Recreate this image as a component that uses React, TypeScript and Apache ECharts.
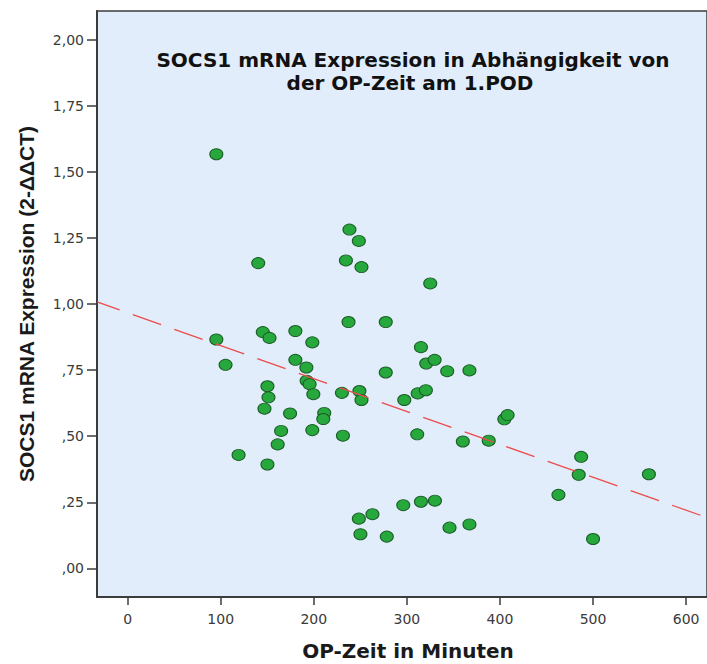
import React, { useEffect, useRef } from "react";
import * as echarts from "echarts";

// OP-Zeit (Minuten) and SOCS1 mRNA expression
const opTimeMin = [
  95.3, 238.3, 248.4, 140.3, 234.5, 251.2, 325.1, 237.3, 277.3, 95.3,
  145.2, 152.4, 180.2, 198.4, 105.2, 180.2, 192.0, 192.3, 195.5, 150.2,
  151.3, 199.5, 230.2, 249.0, 251.2, 147.0, 174.5, 211.2, 210.2, 164.9,
  198.4, 231.3, 161.2, 277.3, 119.2, 150.2, 248.4, 263.0, 250.1, 278.4,
  315.1, 320.8, 329.8, 343.3, 367.2, 297.2, 311.6, 320.4, 311.1, 360.1,
  387.9, 404.7, 408.2, 487.2, 484.6, 560.0, 462.8, 296.1, 315.1, 330.1,
  345.8, 367.2, 500.0,
];
const socs1Expr = [
  1.567, 1.282, 1.239, 1.155, 1.165, 1.14, 1.078, 0.932, 0.932, 0.866,
  0.894, 0.872, 0.898, 0.855, 0.77, 0.789, 0.76, 0.71, 0.697, 0.689,
  0.647, 0.659, 0.664, 0.671, 0.637, 0.604, 0.586, 0.588, 0.565, 0.52,
  0.523, 0.502, 0.469, 0.741, 0.429, 0.393, 0.188, 0.205, 0.129, 0.12,
  0.837, 0.775, 0.789, 0.746, 0.749, 0.637, 0.662, 0.674, 0.507, 0.48,
  0.483, 0.564, 0.58, 0.422, 0.354, 0.356, 0.278, 0.239, 0.252, 0.256,
  0.154, 0.166, 0.111,
];

// Linear fit line (endpoints at the plot edges)
const fitX = [-32.9, 622.4];
const fitY = [1.008, 0.192];

const xTicks = [0, 100, 200, 300, 400, 500, 600];
const yTicks = [0, 0.25, 0.5, 0.75, 1, 1.25, 1.5, 1.75, 2];

const xMin = -32.9;
const xMax = 622.4;
const yMin = -0.1085;
const yMax = 2.109;

const titleLines = [
  "SOCS1 mRNA Expression in Abhängigkeit von",
  "der OP-Zeit am 1.POD",
];
const xTitle = "OP-Zeit in Minuten";
const yTitle = "SOCS1 mRNA Expression (2-ΔΔCT)";

const fmtY = (v: number) => {
  const s = v.toFixed(2).replace(".", ",");
  return s.startsWith("0,") ? s.slice(1) : s;
};

export default function App() {
  const ref = useRef<HTMLDivElement>(null);
  useEffect(() => {
    if (!ref.current) return;
    const chart = echarts.init(ref.current, null, { renderer: "svg" });
    const axisColor = "#3c3c3c";
    const labelFont = "DejaVu Sans";
    const titleStyle = {
      fontFamily: "DejaVu Sans",
      fontWeight: "bold",
      fontSize: 20,
      fill: "#111",
      align: "center",
      verticalAlign: "middle",
    };
    chart.setOption({
      animation: false,
      backgroundColor: "#ffffff",
      grid: {
        left: 97,
        top: 11,
        width: 612,
        height: 586,
        show: true,
        backgroundColor: "#E1EDFA",
        borderColor: axisColor,
        borderWidth: 1.5,
        containLabel: false,
      },
      xAxis: {
        type: "value",
        min: xMin,
        max: xMax,
        axisLine: { show: true, onZero: false, lineStyle: { color: axisColor, width: 2 } },
        axisTick: {
          show: true,
          customValues: xTicks,
          length: 8,
          lineStyle: { color: axisColor, width: 1.5 },
        },
        axisLabel: {
          customValues: xTicks,
          color: "#3a3a3a",
          fontSize: 14,
          fontFamily: labelFont,
          margin: 15,
          formatter: (v: number) => String(v),
        },
        splitLine: { show: false },
      },
      yAxis: {
        type: "value",
        min: yMin,
        max: yMax,
        name: yTitle,
        nameLocation: "middle",
        nameRotate: 90,
        nameGap: 60,
        nameTextStyle: {
          fontFamily: "Liberation Sans",
          fontWeight: "bold",
          fontSize: 21,
          color: "#1a1a1a",
        },
        axisLine: { show: true, onZero: false, lineStyle: { color: axisColor, width: 2 } },
        axisTick: {
          show: true,
          customValues: yTicks,
          length: 10,
          lineStyle: { color: axisColor, width: 1.5 },
        },
        axisLabel: {
          customValues: yTicks,
          color: "#3a3a3a",
          fontSize: 14,
          fontFamily: labelFont,
          margin: 13,
          formatter: (v: number) => fmtY(v),
        },
        splitLine: { show: false },
      },
      graphic: [
        {
          type: "text",
          x: 413,
          y: 60,
          style: { ...titleStyle, text: titleLines[0] },
          z: 10,
        },
        {
          type: "text",
          x: 410,
          y: 83,
          style: { ...titleStyle, text: titleLines[1] },
          z: 10,
        },
        {
          type: "text",
          x: 408,
          y: 651,
          style: { ...titleStyle, text: xTitle, fill: "#1a1a1a" },
          z: 10,
        },
      ],
      series: [
        {
          type: "scatter",
          data: opTimeMin.map((x, i) => [x, socs1Expr[i]]),
          symbol: "circle",
          symbolSize: [13, 11],
          itemStyle: { color: "#27A83C", borderColor: "#1B5E28", borderWidth: 1, opacity: 1 },
          z: 3,
        },
        {
          type: "line",
          data: fitX.map((x, i) => [x, fitY[i]]),
          showSymbol: false,
          symbol: "none",
          silent: true,
          lineStyle: { color: "#EC4B4B", width: 1.3, type: [30, 14], dashOffset: 6 },
          z: 4,
        },
      ],
    });
    return () => chart.dispose();
  }, []);
  return (
    <div
      ref={ref}
      style={{ position: "fixed", left: 0, top: 0, width: 707, height: 664 }}
    />
  );
}
